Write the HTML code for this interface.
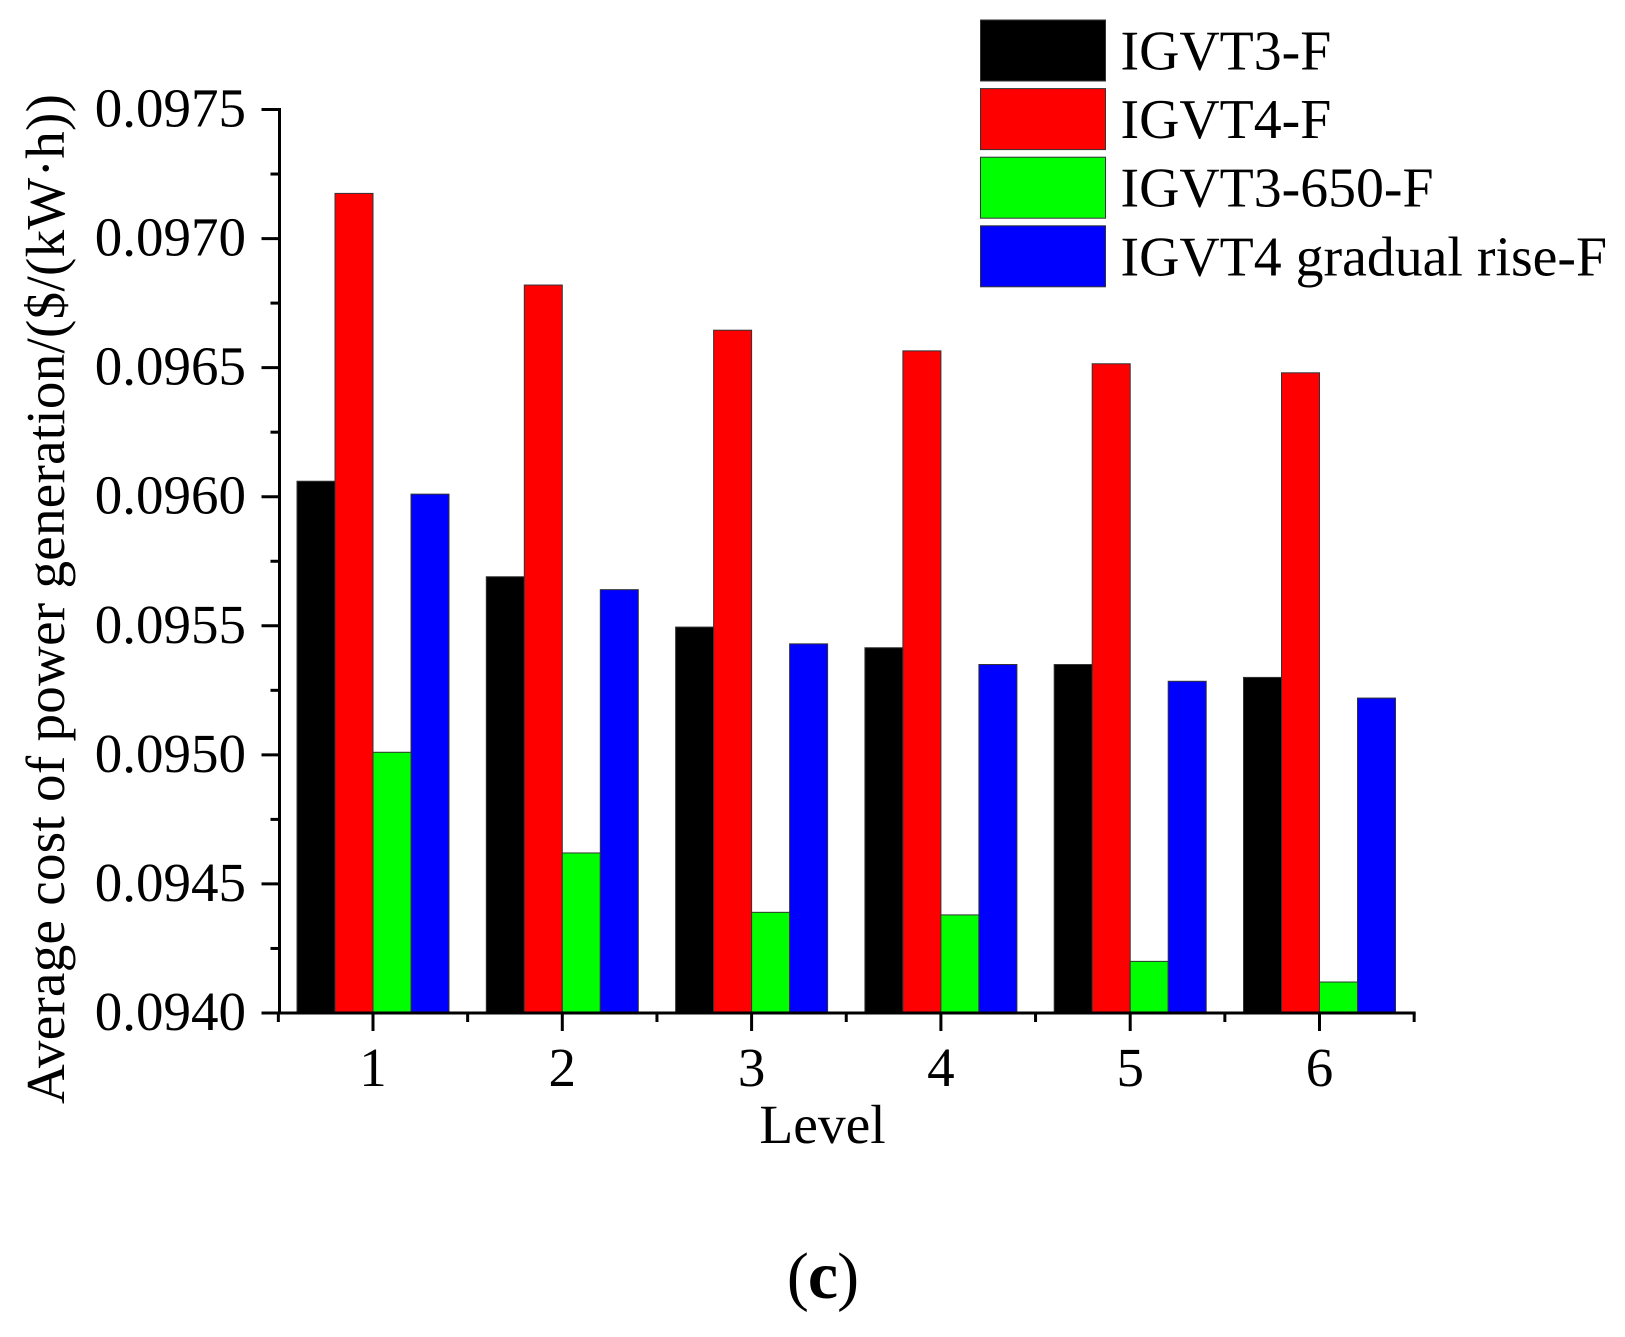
<!DOCTYPE html>
<html lang="en">
<head>
<meta charset="utf-8">
<title>Average cost of power generation by level</title>
<style>
html,body{margin:0;padding:0;background:#fff;}
svg{display:block;}
text{font-family:"Liberation Serif",serif;fill:#000;}
</style>
</head>
<body>
<svg id="chart" xmlns="http://www.w3.org/2000/svg" width="1625" height="1337" viewBox="0 0 1625 1337">
  <rect x="0" y="0" width="1625" height="1337" fill="#fff"/>
  <g id="bars"></g>
  <g id="axes"></g>
  <text transform="translate(64,1104) rotate(-90)" font-size="55" textLength="1010" lengthAdjust="spacing">Average cost of power generation/($/(kW·h))</text>
  <text x="822.5" y="1143" font-size="55.5" text-anchor="middle">Level</text>
  <text x="822.5" y="1298" font-size="66" text-anchor="middle" letter-spacing="-1">(<tspan font-weight="bold" font-size="68">c</tspan>)</text>
  <g id="legend"></g>
</svg>
<script>
const categories = ["1", "2", "3", "4", "5", "6"];
const seriesNames = ["IGVT3-F", "IGVT4-F", "IGVT3-650-F", "IGVT4 gradual rise-F"];
const seriesColors = ["#000000", "#ff0000", "#00ff00", "#0000ff"];
const igvt3F = [0.09606, 0.09569, 0.095495, 0.095415, 0.09535, 0.09530];
const igvt4F = [0.097175, 0.09682, 0.096645, 0.096565, 0.096515, 0.09648];
const igvt3650F = [0.09501, 0.09462, 0.09439, 0.09438, 0.09420, 0.09412];
const igvt4GradualF = [0.09601, 0.09564, 0.09543, 0.09535, 0.095285, 0.09522];
const yTickLabels = ["0.0940", "0.0945", "0.0950", "0.0955", "0.0960", "0.0965", "0.0970", "0.0975"];
const yMinorTicks = [0.09425, 0.09475, 0.09525, 0.09575, 0.09625, 0.09675, 0.09725];

const seriesValues = [igvt3F, igvt4F, igvt3650F, igvt4GradualF];
const NS = "http://www.w3.org/2000/svg";
const yMin = 0.094, yMax = 0.0975;
const plotTop = 109.5, plotBottom = 1013;
const xLeft = 279.5, xStep = 189.3, xFirst = 373;
const barWidth = 38;

function yScale(v) { return plotBottom - (v - yMin) / (yMax - yMin) * (plotBottom - plotTop); }
function xScale(i) { return xFirst + i * xStep; }
function make(tag, attrs, parent) {
  const el = document.createElementNS(NS, tag);
  for (const k in attrs) el.setAttribute(k, attrs[k]);
  parent.appendChild(el);
  return el;
}

const barsG = document.getElementById("bars");
seriesValues.forEach(function (vals, s) {
  vals.forEach(function (v, i) {
    const top = yScale(v);
    const r = make("rect", {
      x: xScale(i) + (s - 2) * barWidth,
      y: top,
      width: barWidth,
      height: Math.max(0, plotBottom - top),
      fill: seriesColors[s],
      stroke: "#333",
      "stroke-width": 1
    }, barsG);
    
    
  });
});

const axesG = document.getElementById("axes");
const xEnd = xScale(categories.length - 1) + xStep / 2;
const yLine = make("line", { x1: xLeft, x2: xLeft, y1: plotTop - 1.5, y2: plotBottom + 1.5, stroke: "#000", "stroke-width": 3 }, axesG);


const xLine = make("line", { x1: xLeft - 18, x2: xEnd + 1.5, y1: plotBottom, y2: plotBottom, stroke: "#000", "stroke-width": 3 }, axesG);



yTickLabels.forEach(function (label) {
  const y = yScale(parseFloat(label));
  const t = make("line", { x1: xLeft - 18, x2: xLeft, y1: y, y2: y, stroke: "#000", "stroke-width": 3 }, axesG);
  
  
  const l = make("text", { x: 246, y: y + 17, "font-size": 55, "text-anchor": "end" }, axesG);
  l.textContent = label;
  
  
});
yMinorTicks.forEach(function (v) {
  const y = yScale(v);
  const t = make("line", { x1: xLeft - 9, x2: xLeft, y1: y, y2: y, stroke: "#000", "stroke-width": 3 }, axesG);
  
  
});
categories.forEach(function (c, i) {
  const x = xScale(i);
  const t = make("line", { x1: x, x2: x, y1: plotBottom, y2: plotBottom + 18, stroke: "#000", "stroke-width": 3 }, axesG);
  
  
  const l = make("text", { x: x, y: 1086, "font-size": 55, "text-anchor": "middle" }, axesG);
  l.textContent = c;
  
  
});
for (let i = -0.5; i < categories.length; i += 1) {
  const x = xScale(i);
  const t = make("line", { x1: x, x2: x, y1: plotBottom, y2: plotBottom + 9, stroke: "#000", "stroke-width": 3 }, axesG);
  
  
}

const legendG = document.getElementById("legend");
seriesNames.forEach(function (name, s) {
  const top = 20 + s * 68.6;
  const sw = make("rect", { x: 980.5, y: top, width: 125, height: 61, fill: seriesColors[s], stroke: "#333", "stroke-width": 1 }, legendG);
  
  
  const tx = make("text", { x: 1120.5, y: top + 49.5, "font-size": 55.8 }, legendG);
  tx.textContent = name;
  
  
});
</script>
</body>
</html>
